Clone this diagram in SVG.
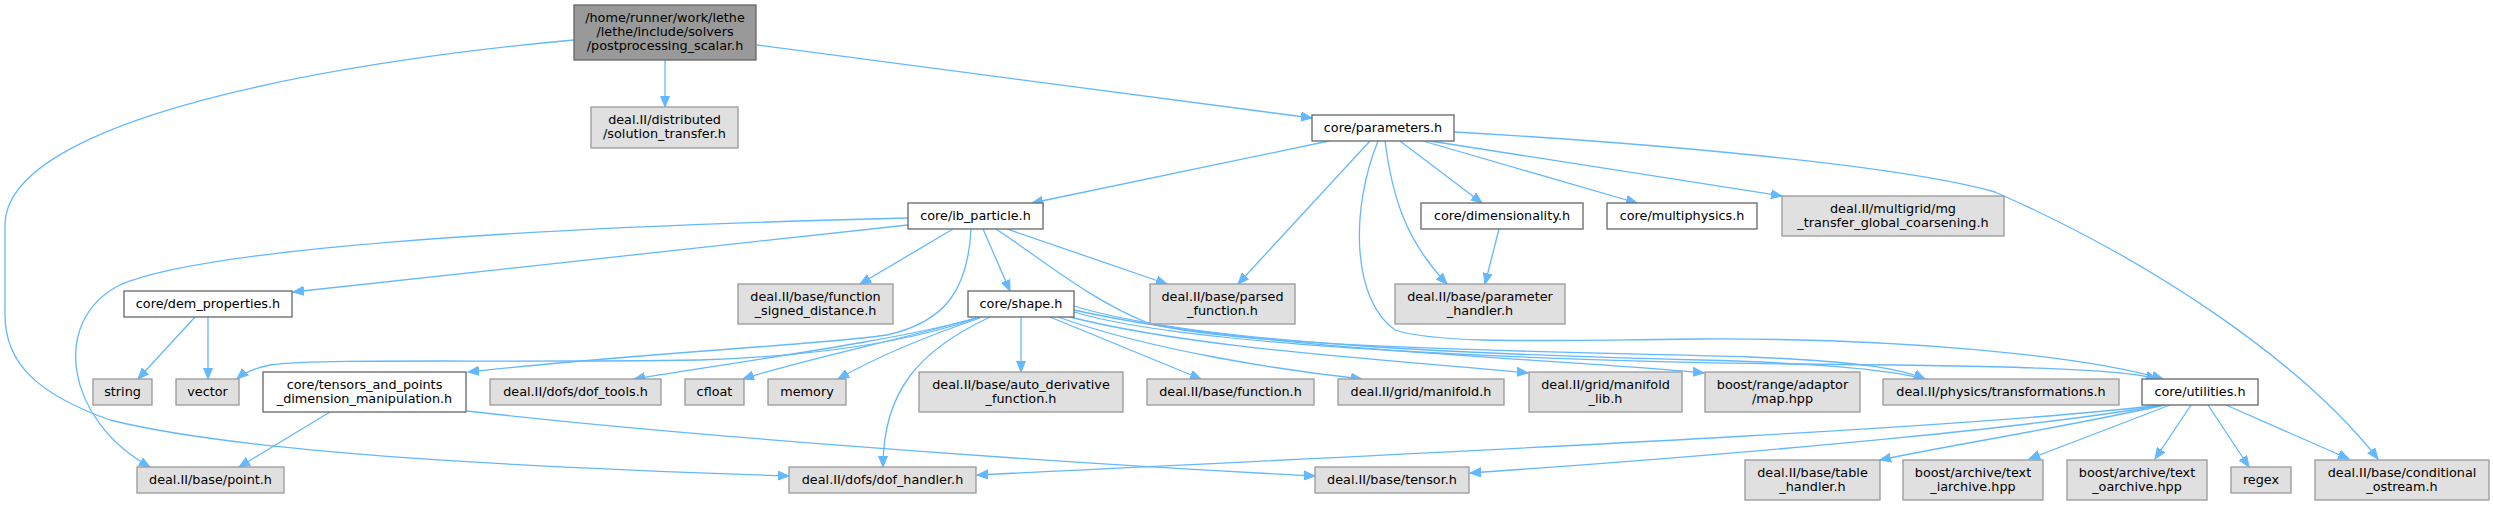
<svg xmlns="http://www.w3.org/2000/svg" width="2493" height="505" viewBox="0 0 2493 505">
<style>
rect{stroke-width:1.3}
.w{fill:#ffffff;stroke:#666666}
.g{fill:#e0e0e0;stroke:#999999}
.r{fill:#999999;stroke:#666666}
text{font-family:"DejaVu Sans","Liberation Sans",sans-serif;font-size:12.8px;fill:#000000;text-anchor:middle}
#edges path{fill:none;stroke:#63b8ff;stroke-width:1.3;marker-end:url(#a)}
</style>
<defs>
<marker id="a" markerUnits="userSpaceOnUse" markerWidth="12" markerHeight="10" refX="11" refY="4.5" orient="auto" viewBox="0 0 12 9">
<path d="M0,0 L11,4.5 L0,9 z" fill="#63b8ff" stroke="#63b8ff" stroke-width="1"/>
</marker>
</defs>
<rect width="2493" height="505" fill="#ffffff"/>
<g id="edges">
<path d="M665,60 L665,107"/>
<path d="M757,45 L1312,118"/>
<path d="M574,40 C330,62 5,120 5,225 L5,315 C5,365 40,395 110,420 C250,455 550,468 789,476"/>
<path d="M1329,141 L1032,203"/>
<path d="M1370,141 L1238,284"/>
<path d="M1385,141 C1392,195 1405,240 1447,284"/>
<path d="M1378,141 C1350,210 1352,300 1395,330 C1440,345 1560,340 1700,339 C1900,338 2080,355 2163,379"/>
<path d="M1400,141 L1482,203"/>
<path d="M1423,141 L1637,203"/>
<path d="M1430,141 L1782,196"/>
<path d="M1454,132 C1650,143 1900,165 1995,192 C2150,260 2300,360 2378,459"/>
<path d="M908,225 L293,292"/>
<path d="M908,218 C500,228 200,250 120,285 C50,320 65,420 150,467"/>
<path d="M953,229 L860,284"/>
<path d="M971,229 C968,290 945,322 887,335 C820,345 650,352 468,372"/>
<path d="M983,229 L1010,291"/>
<path d="M1007,229 L1167,284"/>
<path d="M996,229 C1040,258 1090,300 1148,323 C1250,350 1600,352 1750,357 C1850,361 1900,368 1925,379"/>
<path d="M195,317 L138,379"/>
<path d="M208,317 L208,379"/>
<path d="M980,317 C930,335 850,355 700,360 C500,363 320,358 270,365 C255,368 245,372 237,379"/>
<path d="M976,318 C900,340 750,360 634,379"/>
<path d="M976,318 C900,340 800,360 743,379"/>
<path d="M980,318 C930,335 880,355 838,379"/>
<path d="M990,317 C920,350 883,390 883,467"/>
<path d="M1021,317 L1021,372"/>
<path d="M1050,317 L1201,379"/>
<path d="M1058,317 C1150,350 1280,370 1362,379"/>
<path d="M1070,317 C1200,350 1400,360 1528,373"/>
<path d="M1074,310 C1250,350 1550,358 1704,373"/>
<path d="M1074,306 C1200,345 1500,355 1700,360 C1820,363 1890,370 1925,379"/>
<path d="M1074,312 C1200,350 1600,362 1800,364 C2000,366 2120,368 2157,379"/>
<path d="M330,412 L239,467"/>
<path d="M467,411 C650,432 1000,460 1315,476"/>
<path d="M1499,229 L1485,284"/>
<path d="M2160,405 C2000,425 1600,445 977,475"/>
<path d="M2163,405 C2050,425 1800,450 1470,473"/>
<path d="M2165,405 C2050,430 1950,445 1880,460"/>
<path d="M2170,405 L2029,459"/>
<path d="M2191,405 L2155,459"/>
<path d="M2208,405 L2249,467"/>
<path d="M2226,405 L2349,459"/>
</g>
<g id="root"><rect class="r" x="574" y="5" width="182" height="55"/><text x="665" y="22">/home/runner/work/lethe</text><text x="665" y="36">/lethe/include/solvers</text><text x="665" y="50">/postprocessing_scalar.h</text></g>
<g id="solution_transfer"><rect class="g" x="591" y="107" width="147" height="41"/><text x="664.5" y="124">deal.II/distributed</text><text x="664.5" y="138">/solution_transfer.h</text></g>
<g id="parameters"><rect class="w" x="1312" y="115" width="142" height="26"/><text x="1383" y="131.5">core/parameters.h</text></g>
<g id="ib_particle"><rect class="w" x="908" y="203" width="135" height="26"/><text x="975.5" y="219.5">core/ib_particle.h</text></g>
<g id="dimensionality"><rect class="w" x="1421" y="203" width="162" height="26"/><text x="1502" y="219.5">core/dimensionality.h</text></g>
<g id="multiphysics"><rect class="w" x="1607" y="203" width="150" height="26"/><text x="1682" y="219.5">core/multiphysics.h</text></g>
<g id="mg_transfer"><rect class="g" x="1782" y="196" width="222" height="40"/><text x="1893" y="212.5">deal.II/multigrid/mg</text><text x="1893" y="226.5">_transfer_global_coarsening.h</text></g>
<g id="dem_properties"><rect class="w" x="124" y="291" width="168" height="26"/><text x="208" y="307.5">core/dem_properties.h</text></g>
<g id="function_signed_distance"><rect class="g" x="738" y="284" width="155" height="40"/><text x="815.5" y="300.5">deal.II/base/function</text><text x="815.5" y="314.5">_signed_distance.h</text></g>
<g id="shape"><rect class="w" x="968" y="291" width="106" height="26"/><text x="1021" y="307.5">core/shape.h</text></g>
<g id="parsed_function"><rect class="g" x="1150" y="284" width="145" height="40"/><text x="1222.5" y="300.5">deal.II/base/parsed</text><text x="1222.5" y="314.5">_function.h</text></g>
<g id="parameter_handler"><rect class="g" x="1395" y="284" width="170" height="40"/><text x="1480" y="300.5">deal.II/base/parameter</text><text x="1480" y="314.5">_handler.h</text></g>
<g id="string"><rect class="g" x="93" y="379" width="59" height="26"/><text x="122.5" y="395.5">string</text></g>
<g id="vector"><rect class="g" x="176" y="379" width="63" height="26"/><text x="207.5" y="395.5">vector</text></g>
<g id="tensors_and_points"><rect class="w" x="263" y="372" width="203" height="40"/><text x="364.5" y="388.5">core/tensors_and_points</text><text x="364.5" y="402.5">_dimension_manipulation.h</text></g>
<g id="dof_tools"><rect class="g" x="490" y="379" width="171" height="26"/><text x="575.5" y="395.5">deal.II/dofs/dof_tools.h</text></g>
<g id="cfloat"><rect class="g" x="685" y="379" width="59" height="26"/><text x="714.5" y="395.5">cfloat</text></g>
<g id="memory"><rect class="g" x="768" y="379" width="78" height="26"/><text x="807" y="395.5">memory</text></g>
<g id="auto_derivative_function"><rect class="g" x="919" y="372" width="204" height="40"/><text x="1021" y="388.5">deal.II/base/auto_derivative</text><text x="1021" y="402.5">_function.h</text></g>
<g id="function"><rect class="g" x="1147" y="379" width="167" height="26"/><text x="1230.5" y="395.5">deal.II/base/function.h</text></g>
<g id="manifold"><rect class="g" x="1338" y="379" width="166" height="26"/><text x="1421" y="395.5">deal.II/grid/manifold.h</text></g>
<g id="manifold_lib"><rect class="g" x="1529" y="372" width="153" height="40"/><text x="1605.5" y="388.5">deal.II/grid/manifold</text><text x="1605.5" y="402.5">_lib.h</text></g>
<g id="map_hpp"><rect class="g" x="1705" y="372" width="155" height="40"/><text x="1782.5" y="388.5">boost/range/adaptor</text><text x="1782.5" y="402.5">/map.hpp</text></g>
<g id="transformations"><rect class="g" x="1883" y="379" width="236" height="26"/><text x="2001" y="395.5">deal.II/physics/transformations.h</text></g>
<g id="utilities"><rect class="w" x="2142" y="379" width="116" height="26"/><text x="2200" y="395.5">core/utilities.h</text></g>
<g id="point"><rect class="g" x="137" y="467" width="147" height="26"/><text x="210.5" y="483.5">deal.II/base/point.h</text></g>
<g id="dof_handler"><rect class="g" x="789" y="467" width="187" height="26"/><text x="882.5" y="483.5">deal.II/dofs/dof_handler.h</text></g>
<g id="tensor"><rect class="g" x="1315" y="467" width="154" height="26"/><text x="1392" y="483.5">deal.II/base/tensor.h</text></g>
<g id="table_handler"><rect class="g" x="1745" y="460" width="135" height="40"/><text x="1812.5" y="476.5">deal.II/base/table</text><text x="1812.5" y="490.5">_handler.h</text></g>
<g id="text_iarchive"><rect class="g" x="1903" y="460" width="140" height="40"/><text x="1973" y="476.5">boost/archive/text</text><text x="1973" y="490.5">_iarchive.hpp</text></g>
<g id="text_oarchive"><rect class="g" x="2067" y="460" width="140" height="40"/><text x="2137" y="476.5">boost/archive/text</text><text x="2137" y="490.5">_oarchive.hpp</text></g>
<g id="regex"><rect class="g" x="2231" y="467" width="60" height="26"/><text x="2261" y="483.5">regex</text></g>
<g id="conditional_ostream"><rect class="g" x="2315" y="460" width="174" height="40"/><text x="2402" y="476.5">deal.II/base/conditional</text><text x="2402" y="490.5">_ostream.h</text></g>
</svg>
